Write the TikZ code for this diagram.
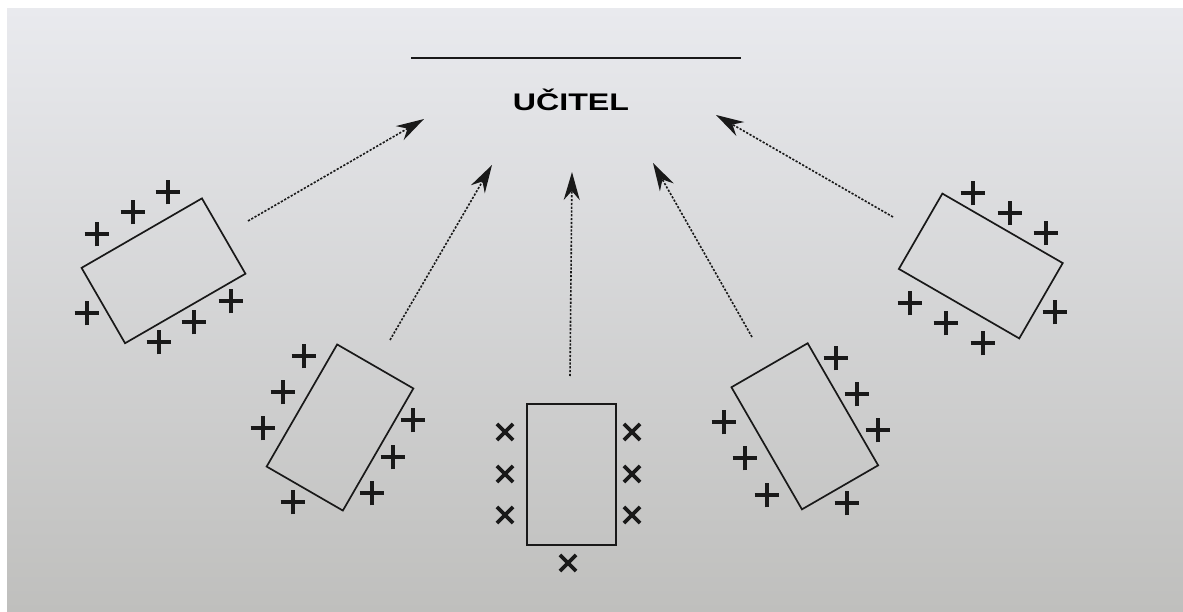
\documentclass[tikz,border=0pt]{standalone}
\usepackage{fontspec,graphicx,xcolor}
\setmainfont{Liberation Sans}
\usetikzlibrary{arrows.meta,shapes.misc}
\definecolor{paperTop}{HTML}{E9EAEE}
\definecolor{paperMid}{HTML}{E0E0E0}
\definecolor{paperBot}{HTML}{BFBFBD}
\tikzstyle{desk} = [draw, black!90, line width=1.7pt, inner sep=0pt]
\tikzstyle{seat} = [cross out, draw, black!90, line width=3.6pt, minimum size=14pt, inner sep=0pt, rotate=45]
\tikzstyle{seatx} = [cross out, draw, black!90, line width=3.6pt, minimum size=12.5pt, inner sep=0pt]
\tikzstyle{look} = [black!90, line width=1.6pt, dash pattern=on 2.2pt off 1.6pt, -{Stealth[length=28pt,width=16pt,inset=9pt]}]

\begin{document}
\begin{tikzpicture}[x=1pt,y=-1pt]
      \useasboundingbox (0,0) rectangle (1183,612);
      \fill[white] (0,0) rectangle (1183,612);
      \shade[top color=paperTop, middle color=paperMid, bottom color=paperBot] (7,9) rectangle (1183,612);
      % teacher
      \draw[black!90, line width=2pt] (411,58) -- (741,58);
      \node[anchor=base, inner sep=0pt] (ucitel) at (571,111) {\scalebox{1.34}[1]{\fontsize{24}{28}\selectfont\bfseries UČITEL}};
      % desks
      \node[desk, minimum width=139pt, minimum height=87pt, rotate=30] (desk1) at (163.5,270.8) {};
      \node[desk, minimum width=141pt, minimum height=88pt, rotate=60] (desk2) at (340,427.5) {};
      \node[desk, minimum width=89pt, minimum height=141pt] (desk3) at (571.5,474.5) {};
      \node[desk, minimum width=141pt, minimum height=88pt, rotate=120] (desk4) at (804.8,426.3) {};
      \node[desk, minimum width=139pt, minimum height=87pt, rotate=-30] (desk5) at (980.8,266) {};
      % pupils
      \foreach \p [count=\i] in {(168,192),(133,212),(97,234),(87,313),(159,342),(194,322),(231,301)}
        \node[seat] (pa\i) at \p {};
      \foreach \p [count=\i] in {(304,356),(283,392),(263,428),(293,502),(413,420),(393,457),(372,493)}
        \node[seat] (pb\i) at \p {};
      \foreach \p [count=\i] in {(505,432),(505,474),(505,515),(632,432),(632,474),(632,515),(568,563)}
        \node[seatx] (pc\i) at \p {};
      \foreach \p [count=\i] in {(836,358),(857,394),(878,430),(847,503),(724,422),(745,458),(767,495)}
        \node[seat] (pd\i) at \p {};
      \foreach \p [count=\i] in {(973,193),(1010,213),(1046,233),(1055,312),(910,303),(946,323),(983,343)}
        \node[seat] (pe\i) at \p {};
      % arrows to the teacher
      \coordinate (from1) at (248,221); \coordinate (to1) at (424,119);
      \coordinate (from2) at (390,340); \coordinate (to2) at (492,165);
      \coordinate (from3) at (570,376); \coordinate (to3) at (572,172);
      \coordinate (from4) at (752,337); \coordinate (to4) at (653,163);
      \coordinate (from5) at (893,217); \coordinate (to5) at (716,115);
      \foreach \k in {1,...,5}
        \draw[look] (from\k) -- (to\k);
\end{tikzpicture}
\end{document}
